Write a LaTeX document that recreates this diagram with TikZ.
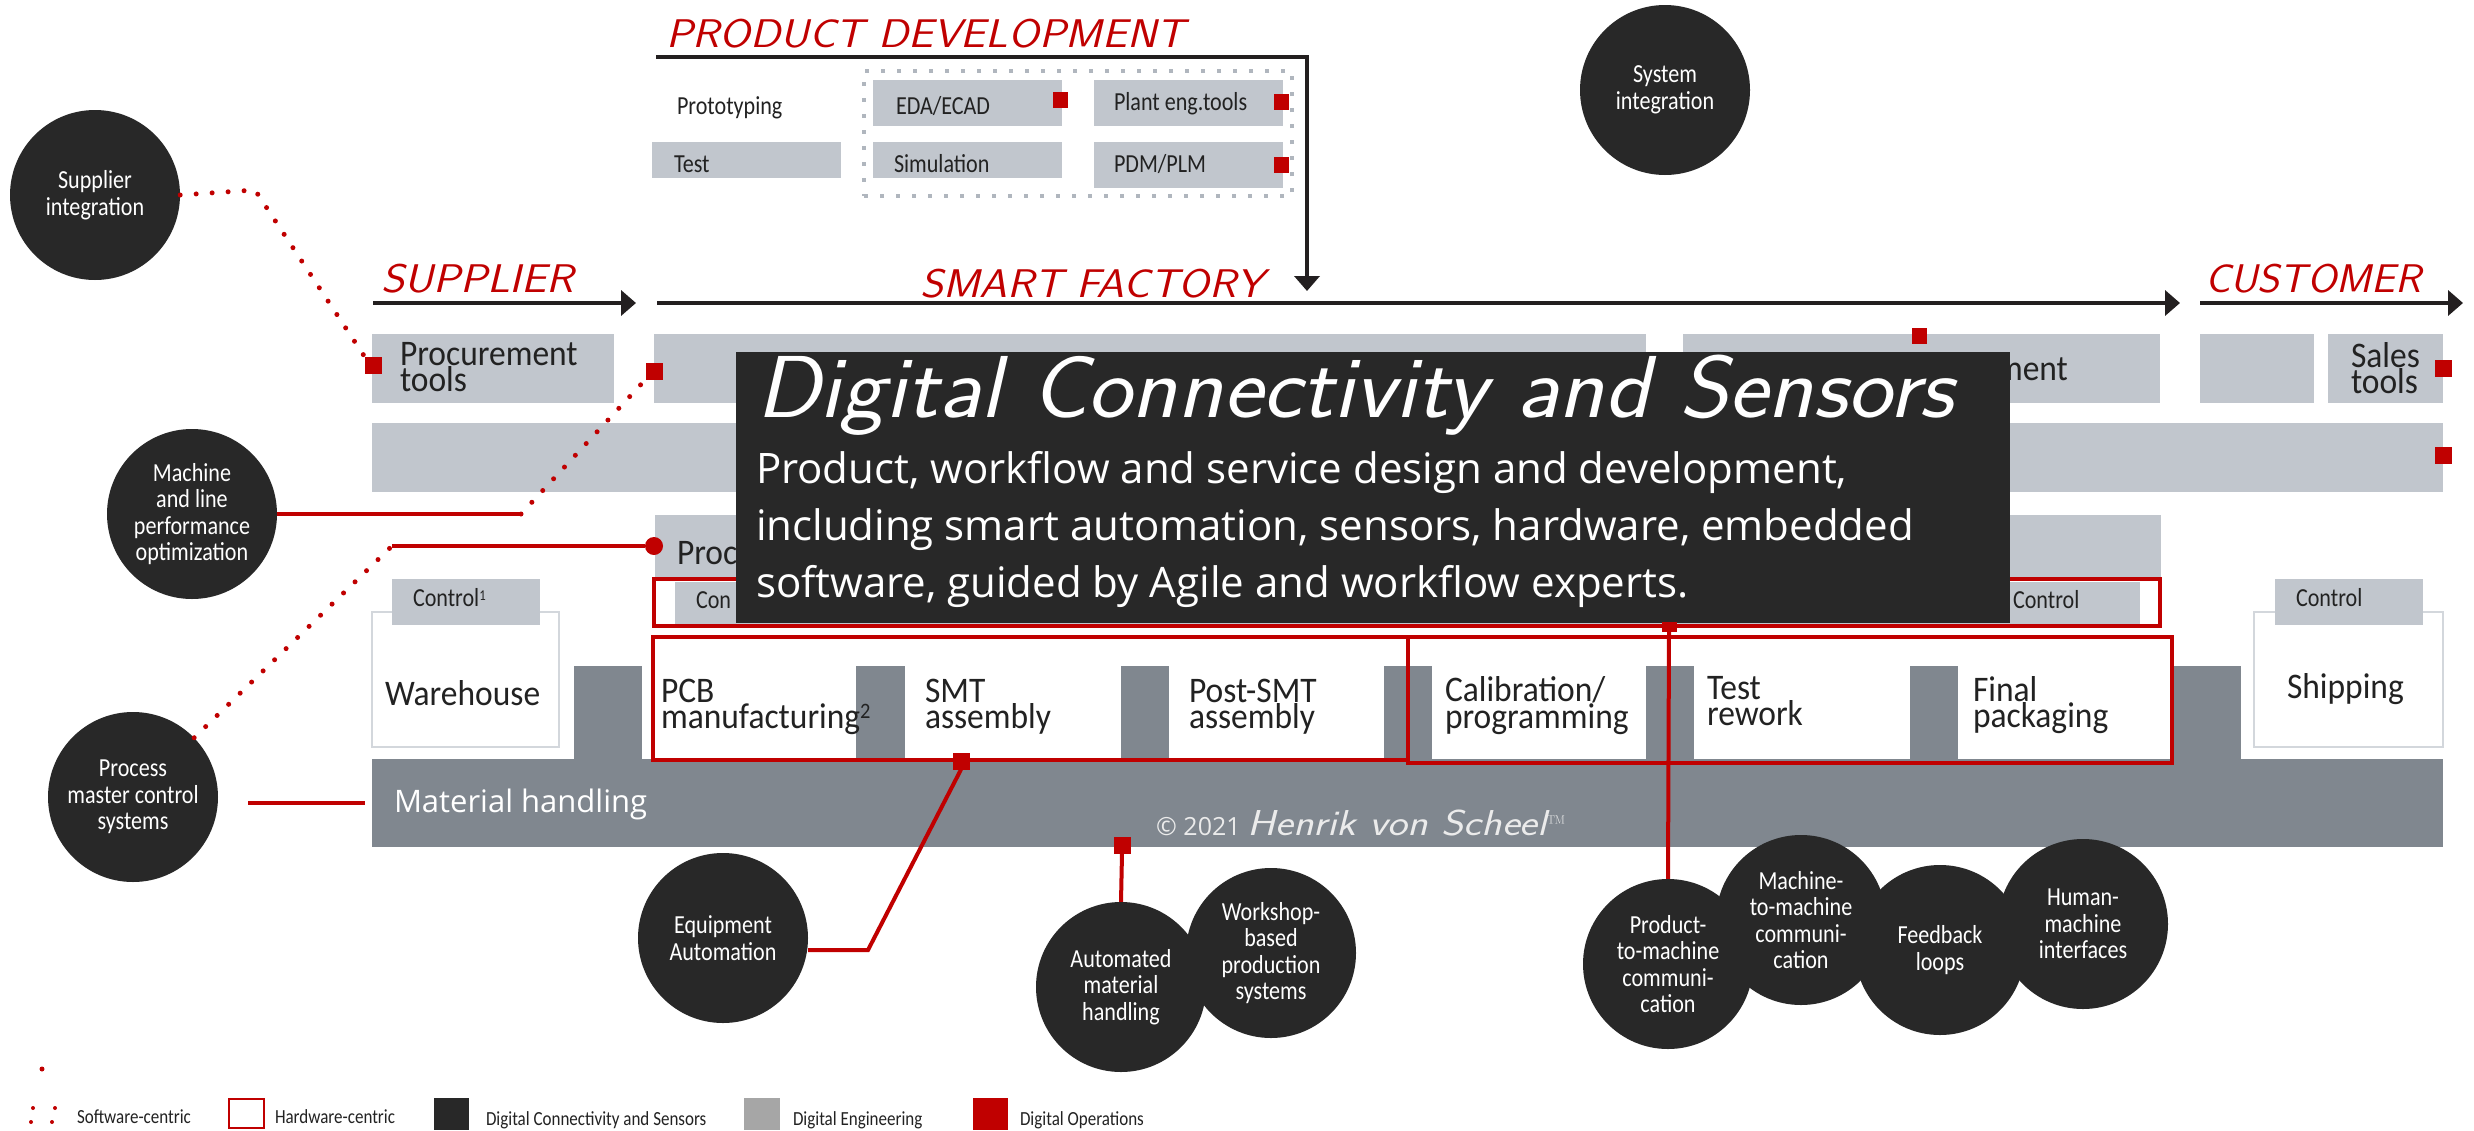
\documentclass[tikz,border=0pt]{standalone}
\usepackage{fontspec}
\usepackage{graphicx}
\usetikzlibrary{arrows.meta}
\newfontfamily\cfont[FakeStretch=0.85]{Carlito}
\newfontfamily\stfont[FakeStretch=0.93]{Carlito}
\newfontfamily\opsans{Open Sans}
\newcommand\handf{\sffamily\itshape}
\definecolor{lg}{HTML}{C1C6CD}
\definecolor{dg}{HTML}{80878F}
\definecolor{dk}{HTML}{282828}
\definecolor{rd}{HTML}{C00000}
\definecolor{dotg}{HTML}{B0B6BE}
\definecolor{leg}{HTML}{A6A6A6}
\definecolor{wb}{HTML}{D3D7DC}
\definecolor{ak}{HTML}{231F20}
\definecolor{tx}{HTML}{222222}
\newcommand\bx[6]{\node[#1,minimum width={#5-#3},minimum height={#6-#4}] (#2) at (#3,#4) {};}
\newcommand\tx[4]{\node[#1,anchor=base west,inner sep=0pt,outer sep=0pt] (#2) at (#3) {#4};}
\newcommand\tm[4]{\node[#1,anchor=north west,align=left,inner sep=0pt,outer sep=0pt] (#2) at (#3) {#4};}
\newcommand\wide[2]{\scalebox{#1}[1]{#2}}
\begin{document}
\begin{tikzpicture}[x=1pt,y=-1pt,
  lgbox/.style={fill=lg,inner sep=0pt,outer sep=0pt,anchor=north west},
  dgbox/.style={fill=dg,inner sep=0pt,outer sep=0pt,anchor=north west},
  whbox/.style={fill=white,draw=wb,line width=2pt,inner sep=0pt,outer sep=0pt,anchor=north west},
  frame/.style={draw=rd,line width=4pt,inner sep=0pt,outer sep=0pt,anchor=north west},
  dotframe/.style={draw=dotg,line width=4pt,dash pattern=on 4pt off 12pt,inner sep=0pt,outer sep=0pt,anchor=north west},
  darkbox/.style={fill=dk,inner sep=0pt,outer sep=0pt,anchor=north west},
  rsq/.style={fill=rd,minimum width=17pt,minimum height=17pt,inner sep=0pt,outer sep=0pt},
  rsqs/.style={fill=rd,minimum width=15pt,minimum height=16pt,inner sep=0pt,outer sep=0pt},
  circ/.style={circle,fill=dk,minimum size=170pt,inner sep=0pt,text=white,align=center,font=\cfont\fontsize{26}{26.5}\selectfont},
  small/.style={text=tx,font=\cfont\fontsize{26}{26}\selectfont},
  station/.style={text=tx,font=\stfont\fontsize{36}{26}\selectfont},
  handlab/.style={text=rd,font=\handf\fontsize{40}{40}\selectfont},
  arr/.style={draw=ak,line width=4pt,-{Triangle[length=15pt,width=25pt]}},
  hw/.style={draw=rd,line width=4pt},
  sw/.style={draw=rd,line width=5pt,line cap=round,dash pattern=on 0pt off 16pt},
  body/.style={text=white,font=\opsans\fontsize{42}{42}\selectfont},
  legt/.style={text=tx,font=\cfont\fontsize{20}{20}\selectfont}]
\useasboundingbox[fill=white] (0,0) rectangle (2474,1130);

% ---------- product development ----------
\tx{handlab}{tPD}{666,47}{\wide{1.11}{PRODUCT DEVELOPMENT}}
\coordinate (pdA) at (656,57);
\coordinate (pdB) at (1307,57);
\coordinate (pdC) at (1307,291);
\draw[arr] (pdA) -- (pdB) -- (pdC);
\bx{dotframe}{dfr}{864}{71}{1292}{196}
\bx{lgbox}{bTest}{652}{142}{841}{178}
\bx{lgbox}{bEda}{873}{80}{1062}{126}
\bx{lgbox}{bPlant}{1094}{80}{1283}{126}
\bx{lgbox}{bSim}{873}{142}{1062}{178}
\bx{lgbox}{bPdm}{1094}{142}{1283}{188}
\tx{small}{tProto}{677,114}{Prototyping}
\tx{small}{tTest}{674,172}{Test}
\tx{small}{tEda}{896,114}{EDA/ECAD}
\tx{small}{tPlant}{1114,110}{Plant eng.tools}
\tx{small}{tSim}{894,172}{Simulation}
\tx{small}{tPdm}{1114,172}{PDM/PLM}
\node[rsqs] (qEda) at (1060,100) {};
\node[rsqs] (qPlant) at (1281,102) {};
\node[rsqs] (qPdm) at (1281,165) {};

% ---------- flow arrows ----------
\coordinate (supA) at (373,303); \coordinate (supB) at (636,303);
\coordinate (sfA) at (657,303); \coordinate (sfB) at (2180,303);
\coordinate (cuA) at (2200,303); \coordinate (cuB) at (2463,303);
\draw[arr] (supA) -- (supB);
\draw[arr] (sfA) -- (sfB);
\draw[arr] (cuA) -- (cuB);
\tx{handlab}{tSup}{381,292}{\wide{1.12}{SUPPLIER}}
\tx{handlab}{tSF}{920,297}{\wide{1.11}{SMART FACTORY}}
\tx{handlab}{tCu}{2205,292}{\wide{1.06}{CUSTOMER}}

% ---------- rows ----------
\bx{lgbox}{bProcT}{372}{334}{614}{403}
\bx{lgbox}{bSF1}{654}{334}{1646}{403}
\bx{lgbox}{bSF2}{1683}{334}{2160}{403}
\bx{lgbox}{bCu1}{2200}{334}{2314}{403}
\bx{lgbox}{bSales}{2328}{334}{2443}{403}
\bx{lgbox}{bRow2}{372}{423}{2443}{492}
\bx{lgbox}{bProc3}{655}{515}{2161}{579}
\bx{frame,fill=white}{fCtl}{654}{579}{2160}{626}
\bx{lgbox}{bCon}{675}{582}{2140}{624}
\tm{station}{tProcT}{400,342}{Procurement\\tools}
\tx{station}{tMent}{1996,380}{ment}
\tm{station}{tSales}{2351,342}{Sales\\tools}
\tx{station}{tProc3}{677,564}{Proc}
\tx{small}{tCon}{696,608}{Con}
\tx{small}{tCtlR}{2013,608}{Control}

% ---------- warehouse / shipping ----------
\bx{whbox}{bWh}{372}{612}{559}{747}
\bx{lgbox}{bCtl1}{392}{579}{540}{625}
\bx{whbox}{bSh}{2254}{612}{2443}{747}
\bx{lgbox}{bCtl2}{2275}{579}{2423}{625}
\tx{small}{tCtl1}{413,606}{Control{\fontsize{15}{15}\selectfont\raisebox{6pt}{1}}}
\tx{small}{tCtl2}{2296,606}{Control}
\tx{station}{tWh}{385,705}{Warehouse}
\tx{station}{tSh}{2287,698}{Shipping}

% ---------- material handling ----------
\bx{dgbox}{tab1}{574}{666}{642}{760}
\bx{dgbox}{tab2}{856}{666}{905}{760}
\bx{dgbox}{tab3}{1121}{666}{1169}{760}
\bx{dgbox}{tab4}{1384}{666}{1432}{760}
\bx{dgbox}{tab5}{1646}{666}{1694}{760}
\bx{dgbox}{tab6}{1910}{666}{1958}{760}
\bx{dgbox}{tab7}{2174}{666}{2241}{760}
\bx{dgbox}{mh}{372}{759}{2443}{847}
\tx{text=white,font=\opsans\fontsize{31}{31}\selectfont}{tMh}{394,812}{Material handling}
\node[anchor=base west,inner sep=0pt,text=white!92!black] (tCopy) at (1156,835)
  {{\opsans\fontsize{25}{25}\selectfont\textcopyright\ 2021 }{\handf\fontsize{36}{36}\selectfont\wide{1.18}{Henrik von Scheel}}{\fontsize{20}{20}\selectfont\raisebox{6pt}{\texttrademark}}};

% stations
\tm{station}{tPcb}{661,679}{PCB\\manufacturing{\fontsize{22}{22}\selectfont\raisebox{10pt}{2}}}
\tm{station}{tSmt}{925,679}{SMT\\assembly}
\tm{station}{tPost}{1189,679}{Post-SMT\\assembly}
\tm{station}{tCal}{1445,676}{Calibration/\\programming}
\tm{station}{tTr}{1707,676}{Test\\rework}
\tm{station}{tFp}{1973,676}{Final\\packaging}
\bx{frame}{fA}{653}{637}{1408}{760}
\bx{frame}{fB}{1408}{637}{2172}{763}

% ---------- dark overlay ----------
\bx{darkbox}{dbox}{736}{352}{2010}{623}
\tx{text=white,font=\handf\fontsize{88}{88}\selectfont}{tTitle}{756,417}{\wide{1.07}{Digital Connectivity and Sensors}}
\tx{body}{tB1}{756,483}{Product, workflow and service design and development,}
\tx{body}{tB2}{756,540}{including smart automation, sensors, hardware, embedded}
\tx{body}{tB3}{756,597}{software, guided by Agile and workflow experts.}

% ---------- circles ----------
\node[circ] (sys) at (1665,90) {System\\integration};
\node[circ] (sup) at (95,195) {Supplier\\integration};
\node[circ] (mlp) at (192,514) {Machine\\and line\\performance\\optimization};
\node[circ] (pmc) at (133,797) {Process\\master control\\systems};
\node[circ] (eq) at (723,938) {Equipment\\Automation};
\node[circ] (wps) at (1271,953) {Workshop-\\based\\production\\systems};
\node[circ] (amh) at (1121,987) {Automated\\material\\handling};
\node[circ] (ptm) at (1668,964) {Product-\\to-machine\\communi-\\cation};
\node[circ] (mtm) at (1801,920) {Machine-\\to-machine\\communi-\\cation};
\node[circ] (fbl) at (1940,950) {Feedback\\loops};
\node[circ] (hmi) at (2083,924) {Human-\\machine\\interfaces};

% ---------- markers ----------
\node[rsq] (qProc) at (373,365) {};
\node[rsq] (qSF) at (654,371) {};
\node[rsqs] (qSF2) at (1919,336) {};
\node[rsq] (qSales) at (2443,368) {};
\node[rsq] (qRow2) at (2443,455) {};
\node[circle,fill=rd,minimum size=18pt,inner sep=0pt] (dProc) at (654,546) {};
\node[rsq] (qSmt) at (961,761) {};
\node[rsq] (qAmh) at (1122,845) {};
\node[fill=rd,minimum width=15pt,minimum height=10pt,inner sep=0pt] (qPtm) at (1669,627) {};

% ---------- connectors ----------
\coordinate (s1) at (255,190);
\draw[sw] (sup.east) -- (s1) -- (qProc.north west);
\coordinate (m1) at (521,514);
\draw[hw] (mlp.east) -- (m1);
\draw[sw] (m1) -- (qSF.south west);
\coordinate (p1) at (392,546);
\draw[sw] (pmc) -- (p1);
\draw[hw] (p1) -- (dProc);
\coordinate (pm1) at (248,803);
\coordinate (pm2) at (365,803);
\draw[hw] (pm1) -- (pm2);
\coordinate (e1) at (868,950);
\draw[hw] (qSmt.south) -- (e1) -- (e1 -| eq.east);
\draw[hw] (qAmh.south) -- (amh.north);
\draw[hw] (qPtm.south) -- (ptm.north);

% ---------- legend ----------
\node[circle,fill=rd,minimum size=5pt,inner sep=0pt] (lgd0) at (42,1069) {};
\node[circle,fill=rd,minimum size=4pt,inner sep=0pt] (lgd1) at (33,1108) {};
\node[circle,fill=rd,minimum size=4pt,inner sep=0pt] (lgd2) at (55,1108) {};
\node[circle,fill=rd,minimum size=4pt,inner sep=0pt] (lgd3) at (31,1122) {};
\node[circle,fill=rd,minimum size=4pt,inner sep=0pt] (lgd4) at (52,1122) {};
\tx{legt}{lt1}{77,1123}{Software-centric}
\bx{frame,line width=2pt}{lb2}{229}{1099}{264}{1128}
\tx{legt}{lt2}{275,1123}{Hardware-centric}
\bx{darkbox}{lb3}{434}{1098}{469}{1130}
\tx{legt}{lt3}{486,1125}{Digital Connectivity and Sensors}
\bx{lgbox,fill=leg}{lb4}{744}{1098}{780}{1130}
\tx{legt}{lt4}{793,1125}{Digital Engineering}
\bx{lgbox,fill=rd}{lb5}{973}{1098}{1008}{1130}
\tx{legt}{lt5}{1020,1125}{Digital Operations}
\end{tikzpicture}
\end{document}
